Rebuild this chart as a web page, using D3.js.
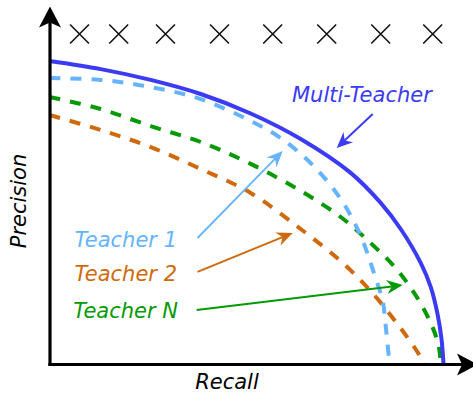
<!DOCTYPE html>
<html>
<head>
<meta charset="utf-8">
<script src="https://cdn.jsdelivr.net/npm/d3@7"></script>
<style>
  body { margin: 0; background: #fff; }
  text { font-family: "DejaVu Sans", Verdana, sans-serif; font-style: italic; font-size: 21px; }
</style>
</head>
<body>
<div id="chart"></div>
<script>
// Curves (recall, precision)
const multiRecall     = [0, 0.128, 0.253, 0.378, 0.503, 0.628, 0.753, 0.828, 0.878, 0.928, 0.953, 0.970, 0.980, 0.985];
const multiPrecision  = [1.010, 0.983, 0.947, 0.900, 0.835, 0.750, 0.637, 0.537, 0.450, 0.337, 0.257, 0.167, 0.083, 0];

const teacher1Recall    = [0, 0.128, 0.253, 0.378, 0.503, 0.578, 0.658, 0.728, 0.778, 0.815, 0.833, 0.840, 0.850];
const teacher1Precision = [0.953, 0.947, 0.923, 0.883, 0.810, 0.753, 0.663, 0.550, 0.427, 0.287, 0.210, 0.133, 0];

const teacher2Recall    = [0, 0.128, 0.253, 0.378, 0.503, 0.628, 0.728, 0.803, 0.870, 0.915, 0.938];
const teacher2Precision = [0.830, 0.780, 0.723, 0.650, 0.570, 0.450, 0.343, 0.243, 0.133, 0.050, 0];

const teacherNRecall    = [0, 0.128, 0.253, 0.378, 0.503, 0.628, 0.728, 0.803, 0.865, 0.915, 0.953, 0.973, 0.978];
const teacherNPrecision = [0.890, 0.850, 0.793, 0.740, 0.667, 0.577, 0.490, 0.403, 0.320, 0.230, 0.137, 0.060, 0];

// X marks along the top
const crossRecall = [0.075, 0.173, 0.290, 0.425, 0.558, 0.693, 0.828, 0.958];

const seriesNames = ['Multi-Teacher', 'Teacher 1', 'Teacher 2', 'Teacher N'];

const series = [
  { name: seriesNames[0], r: multiRecall,    p: multiPrecision,    color: '#3b3bf5', dash: null },
  { name: seriesNames[1], r: teacher1Recall, p: teacher1Precision, color: '#66b3ff', dash: '11,10' },
  { name: seriesNames[2], r: teacher2Recall, p: teacher2Precision, color: '#cf6a0c', dash: '11,10' },
  { name: seriesNames[3], r: teacherNRecall, p: teacherNPrecision, color: '#059a05', dash: '11,10' }
];

const width = 473, height = 394;

const x = d3.scaleLinear().domain([0, 1.03]).range([49.5, 461.5]);
const y = d3.scaleLinear().domain([0, 1.14]).range([364, 22]);

const svg = d3.select('#chart').append('svg')
  .attr('width', width)
  .attr('height', height);

const defs = svg.append('defs');
defs.append('marker')
  .attr('id', 'axisArrow')
  .attr('markerUnits', 'userSpaceOnUse')
  .attr('viewBox', '-6 -12 24 24')
  .attr('markerWidth', 24).attr('markerHeight', 24)
  .attr('refX', 0).attr('refY', 0)
  .attr('orient', 'auto')
  .append('path')
  .attr('d', 'M-5,-11L16,0L-5,11L0,0Z')
  .attr('fill', '#000');

// Curves
const line = d3.line()
  .curve(d3.curveCatmullRom.alpha(0.5))
  .x(d => x(d[0]))
  .y(d => y(d[1]));

// draw dashed teachers first, multi on top
[...series].reverse().forEach(s => {
  svg.append('path')
    .datum(s.r.map((v, i) => [v, s.p[i]]))
    .attr('fill', 'none')
    .attr('stroke', s.color)
    .attr('stroke-width', 4)
    .attr('stroke-dasharray', s.dash)
    .attr('d', line);
});

// Axes (no ticks, arrow heads)
const xAxis = svg.append('g')
  .attr('transform', `translate(0,${y(0)})`)
  .call(d3.axisBottom(x).tickValues([]).tickSizeOuter(0));
const yAxis = svg.append('g')
  .attr('transform', `translate(${x(0)},0)`)
  .call(d3.axisLeft(y).tickValues([]).tickSizeOuter(0));

[xAxis, yAxis].forEach(g => {
  g.select('.domain')
    .attr('stroke', '#000')
    .attr('stroke-width', 3.2)
    .attr('stroke-linecap', 'square')
    .attr('marker-end', 'url(#axisArrow)');
});

// X marks at the top
svg.selectAll('.cross')
  .data(crossRecall)
  .enter()
  .append('path')
  .attr('class', 'cross')
  .attr('transform', d => `translate(${x(d)},${y(1.1)})`)
  .attr('d', d3.symbol(d3.symbolX).size(235)())
  .attr('fill', 'none')
  .attr('stroke', '#111')
  .attr('stroke-width', 1.6);

// Annotation arrows: [from recall, from precision, to recall, to precision]
const arrows = [
  { s: 0, from: [0.808, 0.833], to: [0.718, 0.720], w: 2 },
  { s: 1, from: [0.370, 0.420], to: [0.583, 0.710], w: 1.8 },
  { s: 2, from: [0.370, 0.307], to: [0.608, 0.437], w: 2 },
  { s: 3, from: [0.368, 0.180], to: [0.883, 0.263], w: 2 }
];

arrows.forEach(a => {
  const x0 = x(a.from[0]), y0 = y(a.from[1]);
  const x1 = x(a.to[0]), y1 = y(a.to[1]);
  const ang = Math.atan2(y1 - y0, x1 - x0);
  const len = Math.hypot(x1 - x0, y1 - y0);
  const color = series[a.s].color;
  svg.append('line')
    .attr('x1', x0).attr('y1', y0)
    .attr('x2', x0 + Math.cos(ang) * (len - 9))
    .attr('y2', y0 + Math.sin(ang) * (len - 9))
    .attr('stroke', color)
    .attr('stroke-width', a.w);
  svg.append('path')
    .attr('transform', `translate(${x1},${y1}) rotate(${ang * 180 / Math.PI})`)
    .attr('d', 'M0,0L-16,-7L-11,0L-16,7Z')
    .attr('fill', color);
});

// Series labels
const labels = [
  { s: 0, x: 292, y: 102, anchor: 'start' },
  { s: 1, x: 177, y: 247, anchor: 'end' },
  { s: 2, x: 177, y: 281, anchor: 'end' },
  { s: 3, x: 178, y: 318, anchor: 'end' }
];
labels.forEach(l => {
  svg.append('text')
    .attr('x', l.x).attr('y', l.y)
    .attr('text-anchor', l.anchor)
    .attr('fill', series[l.s].color)
    .text(series[l.s].name);
});

// Axis titles
svg.append('text')
  .attr('x', 227).attr('y', 389)
  .attr('text-anchor', 'middle')
  .attr('fill', '#000')
  .text('Recall');

svg.append('text')
  .attr('transform', 'translate(26,201) rotate(-90)')
  .attr('text-anchor', 'middle')
  .attr('fill', '#000')
  .text('Precision');
</script>
</body>
</html>
